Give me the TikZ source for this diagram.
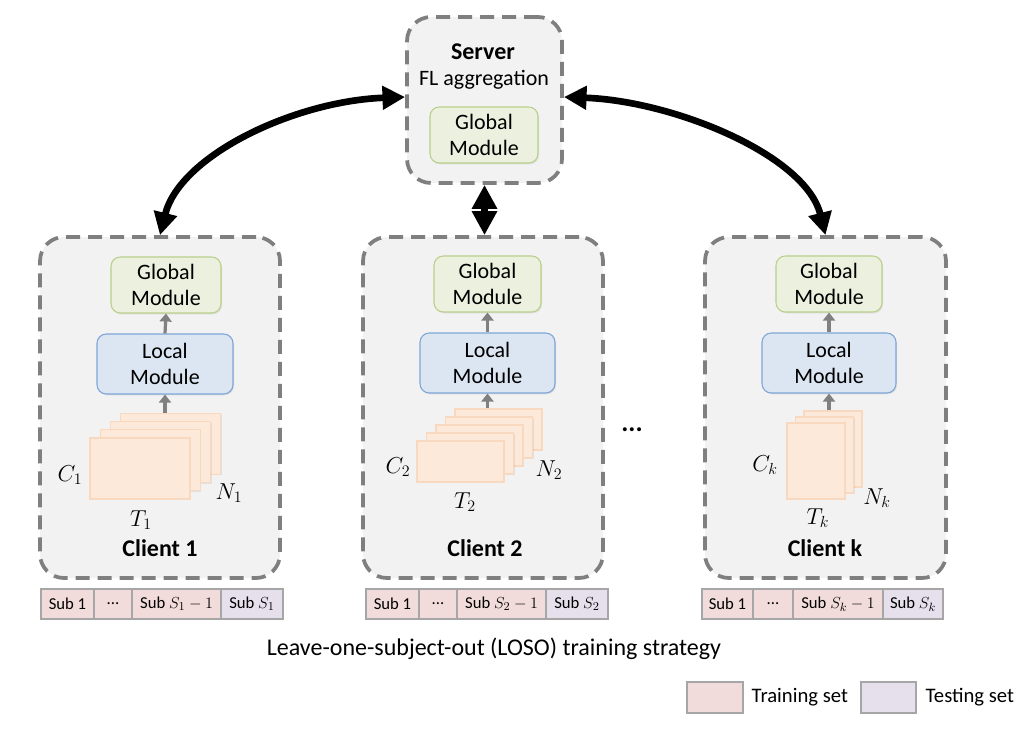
\documentclass[tikz,border=0pt]{standalone}
\usepackage{fontspec}
\setmainfont{Carlito}
\usetikzlibrary{arrows.meta,fit,shadows,calc}

\definecolor{panelfill}{HTML}{F2F2F2}
\definecolor{dashgray}{HTML}{7F7F7F}
\definecolor{glfill}{HTML}{EBF1DE}
\definecolor{gldraw}{HTML}{B9D08C}
\definecolor{lcfill}{HTML}{DCE6F2}
\definecolor{lcdraw}{HTML}{7EA6D6}
\definecolor{stfill}{HTML}{FDE9D9}
\definecolor{stdraw}{HTML}{F8D8BE}
\definecolor{trainc}{HTML}{F2DCDB}
\definecolor{testc}{HTML}{E5E0EC}
\definecolor{cellline}{HTML}{A6A6A6}
\definecolor{flowgray}{HTML}{808080}

\tikzset{
  panel/.style={draw=dashgray, line width=2.8pt, dash pattern=on 10.5pt off 6pt,
    fill=panelfill, rounded corners=18pt, inner sep=0pt},
  glob/.style={draw=gldraw, fill=glfill, line width=0.8pt, rounded corners=7pt, inner sep=0pt,
    drop shadow={opacity=0.18, shadow xshift=0.8pt, shadow yshift=-1pt}},
  locl/.style={draw=lcdraw, fill=lcfill, line width=0.8pt, rounded corners=7pt, inner sep=0pt,
    drop shadow={opacity=0.18, shadow xshift=0.8pt, shadow yshift=-1pt}},
  sheet/.style={draw=stdraw, fill=stfill, line width=0.8pt, inner sep=0pt,
    drop shadow={opacity=0.15, shadow xshift=0.8pt, shadow yshift=-1pt}},
  modtext/.style={font=\fontsize{16.5}{19.5}\selectfont, align=center},
  boldtext/.style={font=\fontsize{18}{20}\selectfont\bfseries},
  dimtext/.style={font=\fontsize{16.5}{18}\selectfont},
  traincell/.style={draw=cellline, fill=trainc, line width=0.8pt, inner sep=0pt},
  testcell/.style={draw=cellline, fill=testc, line width=0.8pt, inner sep=0pt},
  celltext/.style={font=\fontsize{12.5}{14}\selectfont},
  bigarrow/.style={line width=5pt,
    {Triangle[length=17pt,width=17pt]}-{Triangle[length=17pt,width=17pt]}},
  flow/.style={draw=flowgray, line width=2.4pt, -{Triangle[length=6pt,width=9pt]}},
}

\begin{document}
\begin{tikzpicture}[x=0.75pt,y=-0.75pt]
\useasboundingbox (0,0) rectangle (1030,752);

% ---------- server ----------
\node[panel, fit={(407,17)(562,183)}] (srv) {};
\node[boldtext] (srvtitle) at (483,52) {Server};
\node[modtext] (srvsub) at (484,80) {FL aggregation};
\node[glob, fit={(430,107)(538,163)}, label={[modtext]center:Global\\Module}] (sglob) {};

% ---------- clients ----------
\node[panel, fit={(40,237)(280,578)}] (c1) {};
\node[panel, fit={(363,237)(603,578)}] (c2) {};
\node[panel, fit={(705,237)(946,578)}] (ck) {};

% client 1
\node[glob, fit={(111,257)(221,313)}, label={[modtext]center:Global\\Module}] (g1) {};
\node[locl, fit={(97,334)(233,394)}, label={[modtext]center:Local\\Module}] (l1) {};
\foreach \i in {3,2,1,0}
  \node[sheet, fit={({90+\i*10.3},{438-\i*8.3}) ({190+\i*10.3},{499-\i*8.3})}] (s1-\i) {};
\draw[flow] (l1.south |- s1-3.north) -- (l1.south);
\draw[flow] (l1.north) -- (g1.south);
\node[dimtext] (c1c) at (70,475) {$C_1$};
\node[dimtext] (c1n) at (229,493) {$N_1$};
\node[dimtext] (c1t) at (141,520) {$T_1$};
\node[boldtext] (c1name) at (160,548) {Client 1};

% client 2
\node[glob, fit={(434,256)(541,312)}, label={[modtext]center:Global\\Module}] (g2) {};
\node[locl, fit={(420,333)(555,393)}, label={[modtext]center:Local\\Module}] (l2) {};
\foreach \i in {4,3,2,1,0}
  \node[sheet, fit={({417+\i*9.5},{441-\i*8}) ({504+\i*9.5},{482-\i*8})}] (s2-\i) {};
\draw[flow] (l2.south |- s2-4.north) -- (l2.south);
\draw[flow] (l2.north) -- (g2.south);
\node[dimtext] (c2c) at (398,467) {$C_2$};
\node[dimtext] (c2n) at (549,470) {$N_2$};
\node[dimtext] (c2t) at (465,502) {$T_2$};
\node[boldtext] (c2name) at (485,548) {Client 2};

% client k
\node[glob, fit={(776,256)(882,312)}, label={[modtext]center:Global\\Module}] (gk) {};
\node[locl, fit={(762,333)(896,393)}, label={[modtext]center:Local\\Module}] (lk) {};
\foreach \i in {2,1,0}
  \node[sheet, fit={({787+\i*8.5},{423-\i*6}) ({845+\i*8.5},{499-\i*6})}] (sk-\i) {};
\draw[flow] (lk.south |- sk-2.north) -- (lk.south);
\draw[flow] (lk.north) -- (gk.south);
\node[dimtext] (ckc) at (765,465) {$C_k$};
\node[dimtext] (ckn) at (877,498) {$N_k$};
\node[dimtext] (ckt) at (818,518) {$T_k$};
\node[boldtext] (ckname) at (825,548) {Client k};

\node[font=\fontsize{20}{20}\selectfont\bfseries] (dots) at (632,430) {...};

% ---------- server <-> client links ----------
\draw[bigarrow] (c1.north) .. controls +(20,-80) and +(-110,4) .. ($(srv.west)+(0,-3)$);
\draw[bigarrow] (ck.north) .. controls +(-20,-80) and +(110,4) .. ($(srv.east)+(0,-3)$);
\draw[line width=5pt, {Triangle[length=18pt,width=18pt]}-{Triangle[length=18pt,width=18pt]}]
  (c2.north -| srv.south) -- (srv.south);

% ---------- LOSO subject split tables ----------
\node[traincell, fit={(41,589)(94,619)}, label={[celltext]center:Sub 1}] (t1a) {};
\node[traincell, fit={(94,589)(132,619)}, label={[celltext]center:...}] (t1b) {};
\node[traincell, fit={(132,589)(221,619)}, label={[celltext]center:Sub $S_1-1$}] (t1c) {};
\node[testcell, fit={(221,589)(283,619)}, label={[celltext]center:Sub $S_1$}] (t1d) {};

\node[traincell, fit={(366,589)(419,619)}, label={[celltext]center:Sub 1}] (t2a) {};
\node[traincell, fit={(419,589)(457,619)}, label={[celltext]center:...}] (t2b) {};
\node[traincell, fit={(457,589)(546,619)}, label={[celltext]center:Sub $S_2-1$}] (t2c) {};
\node[testcell, fit={(546,589)(608,619)}, label={[celltext]center:Sub $S_2$}] (t2d) {};

\node[traincell, fit={(702,589)(753,619)}, label={[celltext]center:Sub 1}] (tka) {};
\node[traincell, fit={(753,589)(793,619)}, label={[celltext]center:...}] (tkb) {};
\node[traincell, fit={(793,589)(883,619)}, label={[celltext]center:Sub $S_k-1$}] (tkc) {};
\node[testcell, fit={(883,589)(943,619)}, label={[celltext]center:Sub $S_k$}] (tkd) {};

\node[font=\fontsize{18}{20}\selectfont] (caption) at (494,649)
  {Leave-one-subject-out (LOSO) training strategy};

% ---------- legend ----------
\node[traincell, fit={(687,682)(743,713)}] (legtrain) {};
\node[font=\fontsize{15.5}{18}\selectfont, anchor=west] (legtraintext) at (747,697) {Training set};
\node[testcell, fit={(861,682)(916,713)}] (legtest) {};
\node[font=\fontsize{15.5}{18}\selectfont, anchor=west] (legtesttext) at (921,697) {Testing set};
\end{tikzpicture}
\end{document}
